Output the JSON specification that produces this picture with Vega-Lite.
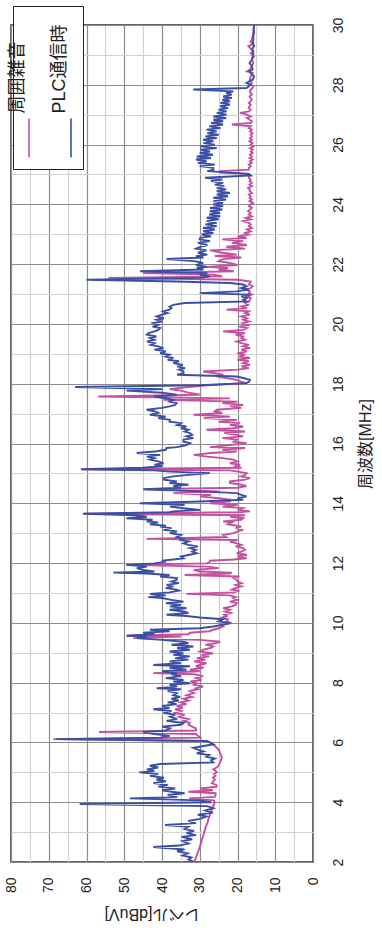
{
  "$schema": "https://vega.github.io/schema/vega-lite/v6.json",
  "width": 302,
  "height": 837,
  "autosize": {"type": "none"},
  "padding": {"left": 11, "top": 25, "right": 69, "bottom": 81},
  "background": "white",
  "config": {
    "view": {"stroke": "#333333", "strokeWidth": 1.5},
    "font": "Liberation Sans, Noto Sans CJK JP"
  },
  "data": {"values": [
    {"f":2.00,"noise":31.5,"plc":31.5},{"f":2.08,"noise":31.2,"plc":33.0},{"f":2.15,"noise":31.0,"plc":32.2},{"f":2.22,"noise":30.8,"plc":34.5},
    {"f":2.29,"noise":30.6,"plc":33.2},{"f":2.36,"noise":30.4,"plc":36.0},{"f":2.42,"noise":30.2,"plc":34.0},{"f":2.50,"noise":30.0,"plc":42.3},
    {"f":2.55,"noise":29.9,"plc":35.5},{"f":2.62,"noise":29.7,"plc":33.0},{"f":2.70,"noise":29.5,"plc":34.5},{"f":2.76,"noise":29.4,"plc":32.0},
    {"f":2.84,"noise":29.2,"plc":34.8},{"f":2.90,"noise":29.0,"plc":31.0},{"f":2.97,"noise":28.9,"plc":33.5},{"f":3.04,"noise":28.7,"plc":31.5},
    {"f":3.10,"noise":28.6,"plc":34.0},{"f":3.18,"noise":28.4,"plc":33.0},{"f":3.24,"noise":28.2,"plc":39.2},{"f":3.30,"noise":28.0,"plc":31.0},
    {"f":3.37,"noise":27.8,"plc":33.0},{"f":3.44,"noise":27.7,"plc":30.0},{"f":3.52,"noise":27.5,"plc":28.2},{"f":3.58,"noise":27.3,"plc":30.5},
    {"f":3.65,"noise":27.1,"plc":26.5},{"f":3.72,"noise":26.9,"plc":28.5},{"f":3.80,"noise":26.6,"plc":26.4},{"f":3.87,"noise":26.4,"plc":28.0},
    {"f":3.94,"noise":26.2,"plc":61.8},{"f":4.00,"noise":26.0,"plc":27.0},{"f":4.06,"noise":26.3,"plc":30.0},{"f":4.13,"noise":32.8,"plc":48.5},
    {"f":4.18,"noise":26.0,"plc":36.0},{"f":4.24,"noise":25.8,"plc":38.5},{"f":4.30,"noise":25.8,"plc":34.0},{"f":4.35,"noise":33.0,"plc":37.5},
    {"f":4.40,"noise":26.5,"plc":40.0},{"f":4.46,"noise":29.9,"plc":36.5},{"f":4.52,"noise":25.5,"plc":41.0},{"f":4.58,"noise":25.6,"plc":38.5},
    {"f":4.64,"noise":26.8,"plc":42.3},{"f":4.70,"noise":26.4,"plc":39.0},{"f":4.76,"noise":26.0,"plc":41.5},{"f":4.82,"noise":26.5,"plc":39.5},
    {"f":4.88,"noise":25.8,"plc":43.2},{"f":4.94,"noise":26.2,"plc":41.0},{"f":5.00,"noise":25.5,"plc":46.0},{"f":5.05,"noise":25.8,"plc":42.0},
    {"f":5.10,"noise":26.4,"plc":44.0},{"f":5.16,"noise":25.5,"plc":41.0},{"f":5.22,"noise":25.0,"plc":43.2},{"f":5.28,"noise":24.8,"plc":40.5},
    {"f":5.33,"noise":24.6,"plc":26.4},{"f":5.40,"noise":24.4,"plc":27.0},{"f":5.46,"noise":24.2,"plc":26.0},{"f":5.52,"noise":24.2,"plc":28.2},
    {"f":5.58,"noise":24.4,"plc":27.5},{"f":5.64,"noise":24.6,"plc":30.8},{"f":5.70,"noise":24.8,"plc":29.0},{"f":5.76,"noise":25.0,"plc":30.5},
    {"f":5.82,"noise":25.5,"plc":31.7},{"f":5.88,"noise":26.0,"plc":29.0},{"f":5.94,"noise":26.8,"plc":26.4},{"f":6.00,"noise":27.3,"plc":27.3},
    {"f":6.05,"noise":28.0,"plc":28.5},{"f":6.11,"noise":68.8,"plc":68.0},{"f":6.16,"noise":29.9,"plc":40.5},{"f":6.22,"noise":30.5,"plc":38.0},
    {"f":6.28,"noise":31.0,"plc":42.0},{"f":6.35,"noise":56.7,"plc":45.0},{"f":6.40,"noise":31.0,"plc":39.0},{"f":6.47,"noise":31.0,"plc":37.9},
    {"f":6.53,"noise":32.0,"plc":40.0},{"f":6.59,"noise":33.0,"plc":35.0},{"f":6.65,"noise":32.6,"plc":34.3},{"f":6.72,"noise":34.3,"plc":38.8},
    {"f":6.78,"noise":33.0,"plc":36.0},{"f":6.86,"noise":35.5,"plc":37.9},{"f":6.93,"noise":34.0,"plc":36.5},{"f":6.98,"noise":37.0,"plc":39.6},
    {"f":7.05,"noise":35.0,"plc":37.5},{"f":7.11,"noise":36.5,"plc":42.3},{"f":7.16,"noise":34.5,"plc":38.0},{"f":7.22,"noise":36.1,"plc":40.0},
    {"f":7.28,"noise":33.5,"plc":36.1},{"f":7.34,"noise":35.0,"plc":38.5},{"f":7.40,"noise":33.0,"plc":35.5},{"f":7.46,"noise":34.3,"plc":37.5},
    {"f":7.52,"noise":32.0,"plc":35.2},{"f":7.58,"noise":33.5,"plc":37.0},{"f":7.65,"noise":31.5,"plc":36.1},{"f":7.72,"noise":32.6,"plc":38.5},
    {"f":7.78,"noise":30.5,"plc":35.0},{"f":7.81,"noise":31.0,"plc":41.4},{"f":7.87,"noise":29.1,"plc":36.0},{"f":7.93,"noise":31.5,"plc":38.0},
    {"f":7.98,"noise":30.8,"plc":32.6},{"f":8.04,"noise":32.5,"plc":37.0},{"f":8.09,"noise":29.5,"plc":34.3},{"f":8.15,"noise":31.0,"plc":39.0},
    {"f":8.22,"noise":29.1,"plc":35.0},{"f":8.28,"noise":31.5,"plc":37.5},{"f":8.32,"noise":42.3,"plc":36.1},{"f":8.38,"noise":30.0,"plc":40.0},
    {"f":8.43,"noise":32.6,"plc":33.5},{"f":8.50,"noise":29.0,"plc":38.0},{"f":8.55,"noise":31.0,"plc":32.6},{"f":8.59,"noise":30.0,"plc":42.3},
    {"f":8.65,"noise":28.2,"plc":35.0},{"f":8.71,"noise":31.5,"plc":38.0},{"f":8.77,"noise":28.5,"plc":33.0},{"f":8.82,"noise":30.8,"plc":36.5},
    {"f":8.88,"noise":27.5,"plc":32.6},{"f":8.93,"noise":29.5,"plc":37.0},{"f":8.98,"noise":26.4,"plc":34.3},{"f":9.04,"noise":30.0,"plc":38.0},
    {"f":9.10,"noise":29.1,"plc":32.6},{"f":9.16,"noise":27.0,"plc":36.0},{"f":9.21,"noise":26.4,"plc":31.7},{"f":9.27,"noise":28.5,"plc":37.5},
    {"f":9.32,"noise":25.5,"plc":33.0},{"f":9.37,"noise":24.6,"plc":34.3},{"f":9.43,"noise":30.0,"plc":40.0},{"f":9.49,"noise":47.6,"plc":46.7},
    {"f":9.54,"noise":35.0,"plc":44.0},{"f":9.57,"noise":49.3,"plc":49.4},{"f":9.62,"noise":33.0,"plc":42.0},{"f":9.67,"noise":32.6,"plc":45.0},
    {"f":9.72,"noise":27.5,"plc":38.0},{"f":9.77,"noise":26.4,"plc":43.2},{"f":9.82,"noise":25.0,"plc":30.0},{"f":9.88,"noise":23.8,"plc":26.4},
    {"f":9.94,"noise":24.5,"plc":23.5},{"f":9.99,"noise":21.5,"plc":22.0},{"f":10.05,"noise":23.0,"plc":25.0},{"f":10.12,"noise":22.5,"plc":23.8},
    {"f":10.18,"noise":24.0,"plc":30.0},{"f":10.23,"noise":22.9,"plc":33.5},{"f":10.27,"noise":23.5,"plc":38.8},{"f":10.33,"noise":21.8,"plc":33.0},
    {"f":10.38,"noise":23.3,"plc":34.3},{"f":10.44,"noise":22.0,"plc":38.0},{"f":10.49,"noise":23.8,"plc":33.5},{"f":10.55,"noise":21.5,"plc":37.9},
    {"f":10.60,"noise":20.5,"plc":35.0},{"f":10.66,"noise":20.2,"plc":39.0},{"f":10.71,"noise":22.0,"plc":34.3},{"f":10.77,"noise":20.0,"plc":37.5},
    {"f":10.83,"noise":21.1,"plc":40.0},{"f":10.86,"noise":20.5,"plc":43.6},{"f":10.92,"noise":22.0,"plc":39.0},{"f":10.97,"noise":33.5,"plc":43.2},
    {"f":11.02,"noise":21.0,"plc":38.0},{"f":11.08,"noise":19.5,"plc":35.5},{"f":11.11,"noise":21.5,"plc":36.1},{"f":11.16,"noise":20.7,"plc":39.0},
    {"f":11.22,"noise":19.0,"plc":37.0},{"f":11.27,"noise":20.5,"plc":38.8},{"f":11.33,"noise":18.9,"plc":35.5},{"f":11.38,"noise":20.0,"plc":37.5},
    {"f":11.44,"noise":20.2,"plc":36.1},{"f":11.50,"noise":21.0,"plc":36.0},{"f":11.55,"noise":19.5,"plc":40.5},{"f":11.60,"noise":34.0,"plc":38.0},
    {"f":11.65,"noise":22.0,"plc":44.0},{"f":11.68,"noise":21.5,"plc":52.9},{"f":11.72,"noise":30.0,"plc":42.0},{"f":11.77,"noise":31.6,"plc":45.0},
    {"f":11.83,"noise":25.0,"plc":46.7},{"f":11.88,"noise":28.0,"plc":44.0},{"f":11.94,"noise":49.4,"plc":49.4},{"f":11.99,"noise":28.0,"plc":42.0},
    {"f":12.05,"noise":27.3,"plc":38.8},{"f":12.08,"noise":27.3,"plc":40.0},{"f":12.12,"noise":21.0,"plc":37.0},{"f":12.16,"noise":17.6,"plc":34.3},
    {"f":12.22,"noise":20.0,"plc":35.0},{"f":12.27,"noise":17.5,"plc":33.0},{"f":12.33,"noise":20.2,"plc":30.8},{"f":12.38,"noise":19.0,"plc":32.0},
    {"f":12.44,"noise":18.0,"plc":31.0},{"f":12.50,"noise":18.5,"plc":32.6},{"f":12.56,"noise":20.5,"plc":30.5},{"f":12.61,"noise":19.0,"plc":33.0},
    {"f":12.66,"noise":20.2,"plc":34.3},{"f":12.72,"noise":22.0,"plc":33.0},{"f":12.77,"noise":20.0,"plc":35.0},{"f":12.81,"noise":44.1,"plc":34.5},
    {"f":12.87,"noise":23.0,"plc":36.1},{"f":12.94,"noise":23.8,"plc":35.0},{"f":13.00,"noise":21.0,"plc":37.9},{"f":13.06,"noise":20.0,"plc":36.0},
    {"f":13.11,"noise":18.5,"plc":39.6},{"f":13.17,"noise":20.5,"plc":37.5},{"f":13.22,"noise":19.0,"plc":40.5},{"f":13.25,"noise":20.2,"plc":39.0},
    {"f":13.30,"noise":22.5,"plc":43.2},{"f":13.36,"noise":21.5,"plc":41.0},{"f":13.39,"noise":23.8,"plc":44.0},{"f":13.45,"noise":19.0,"plc":42.5},
    {"f":13.50,"noise":18.5,"plc":49.4},{"f":13.55,"noise":22.0,"plc":44.0},{"f":13.60,"noise":18.0,"plc":47.0},{"f":13.65,"noise":61.0,"plc":60.8},
    {"f":13.70,"noise":20.0,"plc":38.0},{"f":13.73,"noise":16.7,"plc":37.0},{"f":13.78,"noise":19.5,"plc":29.9},{"f":13.84,"noise":18.5,"plc":35.0},
    {"f":13.89,"noise":24.0,"plc":37.9},{"f":13.95,"noise":20.0,"plc":34.0},{"f":14.00,"noise":27.3,"plc":45.8},{"f":14.06,"noise":22.0,"plc":30.0},
    {"f":14.12,"noise":22.0,"plc":18.5},{"f":14.17,"noise":25.0,"plc":20.0},{"f":14.23,"noise":29.9,"plc":17.6},{"f":14.28,"noise":27.0,"plc":19.0},
    {"f":14.34,"noise":37.0,"plc":20.2},{"f":14.40,"noise":25.0,"plc":30.0},{"f":14.47,"noise":44.1,"plc":45.0},{"f":14.52,"noise":20.0,"plc":35.0},
    {"f":14.58,"noise":17.6,"plc":37.0},{"f":14.62,"noise":19.0,"plc":33.0},{"f":14.68,"noise":22.0,"plc":38.0},{"f":14.73,"noise":22.0,"plc":36.1},
    {"f":14.79,"noise":18.0,"plc":39.5},{"f":14.84,"noise":16.7,"plc":39.6},{"f":14.90,"noise":19.0,"plc":37.0},{"f":14.95,"noise":18.0,"plc":33.0},
    {"f":15.01,"noise":17.6,"plc":27.3},{"f":15.06,"noise":20.0,"plc":38.0},{"f":15.10,"noise":22.0,"plc":42.0},{"f":15.14,"noise":61.5,"plc":61.3},
    {"f":15.19,"noise":19.0,"plc":45.0},{"f":15.24,"noise":20.5,"plc":40.0},{"f":15.29,"noise":19.3,"plc":42.0},{"f":15.34,"noise":22.0,"plc":39.6},
    {"f":15.40,"noise":20.0,"plc":41.0},{"f":15.46,"noise":21.1,"plc":43.2},{"f":15.51,"noise":24.0,"plc":42.0},{"f":15.56,"noise":28.0,"plc":44.0},
    {"f":15.62,"noise":31.6,"plc":40.5},{"f":15.68,"noise":27.0,"plc":46.7},{"f":15.73,"noise":20.2,"plc":42.0},{"f":15.79,"noise":24.0,"plc":39.0},
    {"f":15.85,"noise":18.0,"plc":38.8},{"f":15.88,"noise":27.3,"plc":36.0},{"f":15.95,"noise":22.0,"plc":33.5},{"f":16.01,"noise":17.6,"plc":32.6},
    {"f":16.06,"noise":21.0,"plc":34.3},{"f":16.13,"noise":20.2,"plc":34.3},{"f":16.18,"noise":24.0,"plc":31.7},{"f":16.24,"noise":18.5,"plc":33.5},
    {"f":16.29,"noise":20.2,"plc":32.0},{"f":16.35,"noise":23.5,"plc":32.6},{"f":16.40,"noise":18.0,"plc":34.0},{"f":16.46,"noise":28.2,"plc":33.0},
    {"f":16.51,"noise":21.0,"plc":35.0},{"f":16.57,"noise":18.5,"plc":33.5},{"f":16.62,"noise":22.0,"plc":36.0},{"f":16.68,"noise":19.3,"plc":35.0},
    {"f":16.73,"noise":25.0,"plc":38.0},{"f":16.79,"noise":20.2,"plc":37.9},{"f":16.85,"noise":29.0,"plc":41.0},{"f":16.90,"noise":22.0,"plc":39.0},
    {"f":16.96,"noise":31.6,"plc":43.2},{"f":17.02,"noise":24.0,"plc":41.0},{"f":17.08,"noise":26.0,"plc":42.0},{"f":17.13,"noise":25.5,"plc":44.1},
    {"f":17.19,"noise":19.0,"plc":40.0},{"f":17.24,"noise":22.0,"plc":38.0},{"f":17.29,"noise":18.5,"plc":36.5},{"f":17.35,"noise":24.0,"plc":36.1},
    {"f":17.40,"noise":20.0,"plc":38.0},{"f":17.46,"noise":39.6,"plc":37.0},{"f":17.51,"noise":22.0,"plc":39.0},{"f":17.57,"noise":56.9,"plc":42.0},
    {"f":17.63,"noise":30.0,"plc":36.1},{"f":17.70,"noise":33.0,"plc":40.0},{"f":17.77,"noise":35.0,"plc":49.4},{"f":17.82,"noise":38.0,"plc":40.0},
    {"f":17.89,"noise":33.0,"plc":63.0},{"f":17.95,"noise":28.0,"plc":30.0},{"f":18.02,"noise":17.6,"plc":17.6},{"f":18.07,"noise":19.0,"plc":16.9},
    {"f":18.13,"noise":20.2,"plc":16.7},{"f":18.19,"noise":23.0,"plc":18.5},{"f":18.24,"noise":25.5,"plc":20.2},{"f":18.30,"noise":23.8,"plc":36.0},
    {"f":18.35,"noise":26.0,"plc":34.3},{"f":18.41,"noise":29.1,"plc":34.3},{"f":18.47,"noise":20.0,"plc":35.5},{"f":18.52,"noise":17.0,"plc":33.9},
    {"f":18.58,"noise":19.0,"plc":36.0},{"f":18.63,"noise":16.7,"plc":34.5},{"f":18.69,"noise":18.5,"plc":37.0},{"f":18.75,"noise":17.0,"plc":35.5},
    {"f":18.80,"noise":20.0,"plc":38.5},{"f":18.86,"noise":16.7,"plc":37.0},{"f":18.91,"noise":19.5,"plc":39.0},{"f":18.97,"noise":18.0,"plc":38.0},
    {"f":19.02,"noise":20.0,"plc":40.5},{"f":19.08,"noise":17.5,"plc":39.0},{"f":19.14,"noise":19.0,"plc":42.0},{"f":19.19,"noise":16.7,"plc":39.6},
    {"f":19.25,"noise":18.5,"plc":41.0},{"f":19.30,"noise":17.0,"plc":43.0},{"f":19.36,"noise":19.0,"plc":42.0},{"f":19.41,"noise":20.2,"plc":44.0},
    {"f":19.47,"noise":18.0,"plc":42.0},{"f":19.53,"noise":19.0,"plc":43.2},{"f":19.58,"noise":18.5,"plc":41.5},{"f":19.64,"noise":20.5,"plc":44.0},
    {"f":19.69,"noise":18.0,"plc":43.6},{"f":19.75,"noise":23.8,"plc":42.0},{"f":19.80,"noise":18.5,"plc":41.0},{"f":19.86,"noise":17.5,"plc":40.5},
    {"f":19.91,"noise":19.5,"plc":42.5},{"f":19.97,"noise":16.7,"plc":41.0},{"f":20.03,"noise":18.5,"plc":42.3},{"f":20.08,"noise":17.0,"plc":40.0},
    {"f":20.14,"noise":18.5,"plc":41.4},{"f":20.19,"noise":17.5,"plc":39.5},{"f":20.25,"noise":19.0,"plc":41.4},{"f":20.31,"noise":16.7,"plc":40.0},
    {"f":20.36,"noise":18.0,"plc":38.5},{"f":20.42,"noise":17.0,"plc":39.7},{"f":20.48,"noise":22.9,"plc":38.0},{"f":20.53,"noise":17.5,"plc":37.5},
    {"f":20.58,"noise":19.0,"plc":38.0},{"f":20.64,"noise":17.2,"plc":37.0},{"f":20.70,"noise":18.0,"plc":34.0},{"f":20.75,"noise":17.0,"plc":17.6},
    {"f":20.81,"noise":16.7,"plc":18.5},{"f":20.87,"noise":16.5,"plc":17.5},{"f":20.92,"noise":17.5,"plc":19.0},{"f":20.98,"noise":16.2,"plc":16.7},
    {"f":21.03,"noise":17.0,"plc":30.0},{"f":21.09,"noise":16.7,"plc":20.2},{"f":21.15,"noise":17.5,"plc":17.0},{"f":21.20,"noise":16.5,"plc":19.0},
    {"f":21.26,"noise":16.0,"plc":17.6},{"f":21.32,"noise":17.0,"plc":18.5},{"f":21.37,"noise":16.7,"plc":22.0},{"f":21.42,"noise":16.5,"plc":36.1},
    {"f":21.48,"noise":20.0,"plc":60.0},{"f":21.54,"noise":54.2,"plc":30.0},{"f":21.59,"noise":24.0,"plc":27.3},{"f":21.65,"noise":26.4,"plc":30.0},
    {"f":21.70,"noise":45.0,"plc":28.0},{"f":21.76,"noise":21.0,"plc":45.8},{"f":21.82,"noise":25.0,"plc":29.0},{"f":21.87,"noise":22.5,"plc":30.8},
    {"f":21.91,"noise":28.2,"plc":28.0},{"f":21.97,"noise":20.0,"plc":31.0},{"f":22.04,"noise":22.0,"plc":29.1},{"f":22.10,"noise":25.0,"plc":31.5},
    {"f":22.17,"noise":23.8,"plc":38.8},{"f":22.22,"noise":19.0,"plc":29.0},{"f":22.27,"noise":26.0,"plc":31.0},{"f":22.32,"noise":20.2,"plc":28.0},
    {"f":22.38,"noise":24.0,"plc":30.5},{"f":22.46,"noise":27.3,"plc":28.2},{"f":22.52,"noise":18.0,"plc":31.0},{"f":22.58,"noise":23.0,"plc":29.9},
    {"f":22.64,"noise":17.5,"plc":28.0},{"f":22.71,"noise":21.5,"plc":30.5},{"f":22.77,"noise":18.5,"plc":27.3},{"f":22.83,"noise":24.0,"plc":30.0},
    {"f":22.88,"noise":17.5,"plc":29.9},{"f":22.93,"noise":20.0,"plc":27.0},{"f":22.99,"noise":17.0,"plc":29.5},{"f":23.04,"noise":18.0,"plc":26.4},
    {"f":23.10,"noise":16.5,"plc":29.1},{"f":23.16,"noise":17.5,"plc":26.0},{"f":23.21,"noise":16.2,"plc":29.1},{"f":23.27,"noise":17.0,"plc":25.5},
    {"f":23.33,"noise":16.5,"plc":28.5},{"f":23.38,"noise":17.0,"plc":25.5},{"f":23.44,"noise":18.5,"plc":28.2},{"f":23.50,"noise":16.5,"plc":25.0},
    {"f":23.55,"noise":17.8,"plc":28.2},{"f":23.60,"noise":16.2,"plc":24.6},{"f":23.66,"noise":17.0,"plc":27.5},{"f":23.71,"noise":16.5,"plc":24.6},
    {"f":23.77,"noise":17.2,"plc":27.3},{"f":23.83,"noise":16.7,"plc":24.0},{"f":23.88,"noise":16.2,"plc":27.3},{"f":23.94,"noise":17.0,"plc":23.8},
    {"f":24.00,"noise":16.5,"plc":26.5},{"f":24.05,"noise":15.9,"plc":23.8},{"f":24.11,"noise":16.8,"plc":26.4},{"f":24.16,"noise":16.2,"plc":23.0},
    {"f":24.22,"noise":16.8,"plc":26.4},{"f":24.27,"noise":16.5,"plc":22.5},{"f":24.33,"noise":17.0,"plc":25.5},{"f":24.38,"noise":16.2,"plc":22.0},
    {"f":24.44,"noise":16.8,"plc":25.5},{"f":24.50,"noise":16.7,"plc":23.0},{"f":24.55,"noise":17.2,"plc":25.5},{"f":24.61,"noise":16.2,"plc":23.5},
    {"f":24.66,"noise":16.8,"plc":26.0},{"f":24.72,"noise":16.2,"plc":23.8},{"f":24.78,"noise":16.8,"plc":27.0},{"f":24.83,"noise":16.5,"plc":24.0},
    {"f":24.89,"noise":17.0,"plc":28.6},{"f":24.93,"noise":17.0,"plc":22.0},{"f":24.97,"noise":16.5,"plc":16.5},{"f":25.02,"noise":17.0,"plc":17.0},
    {"f":25.06,"noise":24.6,"plc":22.0},{"f":25.11,"noise":24.6,"plc":28.0},{"f":25.16,"noise":17.0,"plc":26.4},{"f":25.22,"noise":17.0,"plc":26.4},
    {"f":25.28,"noise":16.5,"plc":30.0},{"f":25.33,"noise":17.0,"plc":26.0},{"f":25.39,"noise":16.2,"plc":30.5},{"f":25.44,"noise":16.7,"plc":28.2},
    {"f":25.50,"noise":16.0,"plc":31.0},{"f":25.55,"noise":16.8,"plc":27.0},{"f":25.60,"noise":16.2,"plc":30.8},{"f":25.66,"noise":16.7,"plc":26.5},
    {"f":25.72,"noise":16.0,"plc":30.0},{"f":25.77,"noise":16.5,"plc":27.3},{"f":25.83,"noise":16.0,"plc":29.9},{"f":25.88,"noise":16.7,"plc":25.5},
    {"f":25.94,"noise":15.8,"plc":29.9},{"f":26.00,"noise":16.5,"plc":26.0},{"f":26.05,"noise":16.0,"plc":29.0},{"f":26.11,"noise":16.8,"plc":26.4},
    {"f":26.16,"noise":16.2,"plc":29.1},{"f":26.22,"noise":16.7,"plc":25.5},{"f":26.27,"noise":16.2,"plc":28.5},{"f":26.33,"noise":16.5,"plc":25.0},
    {"f":26.38,"noise":16.0,"plc":28.0},{"f":26.44,"noise":16.7,"plc":25.5},{"f":26.50,"noise":16.2,"plc":28.2},{"f":26.55,"noise":17.0,"plc":24.5},
    {"f":26.61,"noise":16.5,"plc":27.5},{"f":26.67,"noise":21.5,"plc":23.8},{"f":26.72,"noise":16.5,"plc":27.0},{"f":26.78,"noise":16.2,"plc":23.8},
    {"f":26.83,"noise":16.8,"plc":26.4},{"f":26.89,"noise":17.5,"plc":23.0},{"f":26.94,"noise":16.5,"plc":26.4},{"f":27.00,"noise":17.5,"plc":22.9},
    {"f":27.06,"noise":19.3,"plc":25.5},{"f":27.11,"noise":17.0,"plc":22.9},{"f":27.17,"noise":16.5,"plc":25.0},{"f":27.22,"noise":17.0,"plc":22.5},
    {"f":27.28,"noise":16.9,"plc":24.6},{"f":27.34,"noise":16.5,"plc":22.0},{"f":27.39,"noise":17.0,"plc":24.5},{"f":27.45,"noise":16.5,"plc":22.0},
    {"f":27.50,"noise":16.2,"plc":24.0},{"f":27.56,"noise":16.5,"plc":21.5},{"f":27.61,"noise":16.8,"plc":23.8},{"f":27.67,"noise":16.2,"plc":21.5},
    {"f":27.72,"noise":16.5,"plc":23.0},{"f":27.78,"noise":16.7,"plc":21.1},{"f":27.84,"noise":16.5,"plc":31.7},{"f":27.89,"noise":16.0,"plc":17.6},
    {"f":27.95,"noise":15.8,"plc":17.0},{"f":28.00,"noise":16.5,"plc":16.5},{"f":28.06,"noise":16.2,"plc":17.6},{"f":28.17,"noise":16.7,"plc":16.0},
    {"f":28.28,"noise":16.5,"plc":15.6},{"f":28.40,"noise":16.0,"plc":16.5},{"f":28.45,"noise":17.5,"plc":16.9},{"f":28.51,"noise":16.7,"plc":16.0},
    {"f":28.62,"noise":16.2,"plc":16.2},{"f":28.73,"noise":15.8,"plc":16.8},{"f":28.84,"noise":16.2,"plc":16.2},{"f":28.95,"noise":15.6,"plc":16.0},
    {"f":29.05,"noise":16.5,"plc":15.8},{"f":29.12,"noise":15.8,"plc":15.9},{"f":29.20,"noise":16.5,"plc":16.1},{"f":29.29,"noise":17.1,"plc":15.6},
    {"f":29.35,"noise":16.0,"plc":15.8},{"f":29.45,"noise":16.5,"plc":15.9},{"f":29.51,"noise":16.2,"plc":15.8},{"f":29.62,"noise":16.0,"plc":15.8},
    {"f":29.75,"noise":15.8,"plc":15.6},{"f":29.85,"noise":15.8,"plc":15.7},{"f":29.96,"noise":15.6,"plc":15.6},{"f":30.00,"noise":15.6,"plc":15.6}
  ]},
  "transform": [{"fold": ["noise", "plc"], "as": ["series", "level"]}],
  "mark": {"type": "line", "strokeWidth": 1.9, "clip": true},
  "encoding": {
    "y": {
      "field": "f", "type": "quantitative",
      "scale": {"domain": [2, 30], "nice": false, "zero": false},
      "axis": {
        "orient": "right",
        "values": [2,3,4,5,6,7,8,9,10,11,12,13,14,15,16,17,18,19,20,21,22,23,24,25,26,27,28,29,30],
        "labelExpr": "datum.value % 2 === 0 ? datum.label : ''",
        "labelAngle": 270, "labelAlign": "center", "labelBaseline": "top",
        "labelFontSize": 14, "labelColor": "#222222", "labelPadding": 18,
        "ticks": false, "domain": false,
        "gridColor": {"condition": {"test": "datum.value % 2 === 0", "value": "#8c8c8c"}, "value": "#d2d2d2"},
        "gridWidth": 1.2,
        "title": "周波数[MHz]", "titleAngle": 270, "titleBaseline": "top", "titleFontSize": 16, "titleFontWeight": "normal",
        "titleColor": "#222222", "titlePadding": 12
      }
    },
    "x": {
      "field": "level", "type": "quantitative",
      "scale": {"domain": [0, 80], "reverse": true, "nice": false, "zero": false},
      "axis": {
        "orient": "bottom",
        "values": [0,5,10,15,20,25,30,35,40,45,50,55,60,65,70,75,80],
        "labelExpr": "datum.value % 10 === 0 ? datum.label : ''",
        "labelAngle": 270, "labelAlign": "right", "labelBaseline": "middle",
        "labelFontSize": 14, "labelColor": "#222222", "labelPadding": 15,
        "ticks": false, "domain": false,
        "gridColor": {"condition": {"test": "datum.value % 10 === 0", "value": "#8c8c8c"}, "value": "#d2d2d2"},
        "gridWidth": 1.2,
        "title": "レベル[dBuV]", "titleAngle": 180, "titleBaseline": "bottom", "titleFontSize": 16, "titleFontWeight": "normal",
        "titleColor": "#222222", "titlePadding": 13, "titleX": 141
      }
    },
    "color": {
      "field": "series", "type": "nominal",
      "scale": {"domain": ["noise", "plc"], "range": ["#c4509f", "#3a4fa5"]},
      "legend": {
        "orient": "none", "legendX": 2, "legendY": -19,
        "direction": "horizontal", "columns": 2,
        "title": null,
        "labelExpr": "datum.value === 'noise' ? '周囲雑音' : 'PLC通信時'",
        "labelFontSize": 18, "labelColor": "#222222", "labelOffset": 0, "labelLimit": 300,
        "symbolType": "M0,-1L0,1", "symbolSize": 1521, "symbolStrokeWidth": 1.6, "symbolOffset": -12.5,
        "columnPadding": 17, "padding": 8,
        "strokeColor": "#222222", "fillColor": "white",
        "encode": {
          "symbols": {"update": {"y": {"value": 123.5}}},
          "labels": {"update": {
            "angle": {"value": -90}, "align": {"value": "left"}, "baseline": {"value": "middle"},
            "dx": {"value": -78.5}, "dy": {"value": -32}
          }}
        }
      }
    },
    "order": {"field": "f", "type": "quantitative"}
  }
}
